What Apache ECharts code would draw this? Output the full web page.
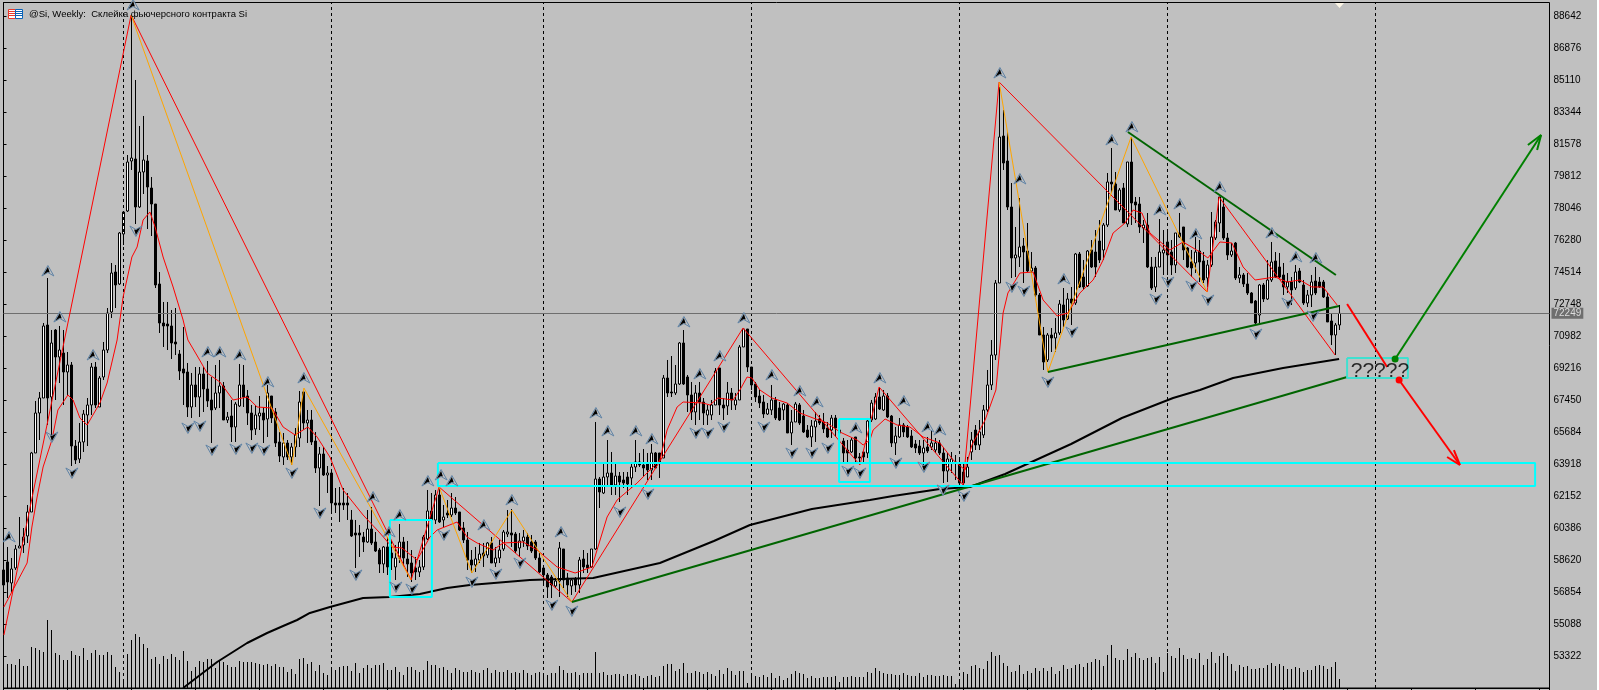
<!DOCTYPE html>
<html><head><meta charset="utf-8">
<script src="https://cdn.jsdelivr.net/npm/echarts@6/dist/echarts.min.js"></script>
<style>html,body{margin:0;padding:0;background:#C0C0C0;overflow:hidden}#c{width:1599px;height:690px}</style>
</head><body><div id="c"></div>
<script>
// Weekly candles, each row: open, close, low, high
const barsA=[[58084,57256,56538,58636],[58525,57421,56538,59354],[57366,58139,56870,58746],[58194,59243,58084,59464],[59298,59408,59298,61009],[59464,59905,59022,60402],[59960,61285,59574,61671],[61285,64541,61285,64600],[64541,66748,64541,67411],[66748,67576,65258,67908],
[67576,71550,67576,71716],[71605,67576,66086,74199],[67632,70612,65258,71329],[71329,69839,67466,71384],[69839,70225,68404,71550],[70060,69011,67190,71329],[69011,69398,67742,70115],[69398,64927,63823,69563],[64927,64155,63934,65258],[64210,65148,63989,66197],
[65148,66693,64596,66914],[66638,67190,64927,67576],[67190,69287,66638,69508],[69287,67190,67024,69563],[67080,68680,67080,68790],[68735,70225,68570,70667],[70225,72267,70060,72543],[72323,74475,71991,75027],[74530,73813,72543,74917],[73868,76683,73813,76738]];
const barsB=[[76628,77842,76020,77842],[77897,80601,77842,80987],[80656,80822,80160,88604],[80767,78118,77179,85127],[78118,80049,78062,82588],[80049,80712,78835,83140],[80656,79221,76903,80987],[79166,78283,76517,79773],[78283,73813,73647,78283],[73868,71716,71164,74530],
[71716,71550,70391,72875],[71660,71550,70225,72875],[71550,70612,69729,72433],[70667,70557,69949,72543],[70005,69066,68570,70225],[69177,68956,67190,71495],[69011,67080,66528,69508],[67080,68294,66473,68956],[68294,67632,67080,69287],[67632,68901,66528,69287],
[68901,68073,66804,69287],[68073,67411,67080,69618],[67466,66914,65093,68735],[67024,67853,66914,69398],[67853,68239,67024,69674],[68239,66362,66362,68460],[66362,66528,66197,66804],[66583,65976,65148,67466],[65976,67245,65148,67356],[67135,68294,67080,69453],
[68294,67632,67080,69398],[67687,66748,66086,68018],[66748,65810,65258,67190],[65866,66638,65534,67190],[66583,66748,65810,67687],[66748,66362,65093,67080],[66418,67853,65424,68294],[67687,66473,66197,67687],[66804,65093,64872,67024],[65148,64375,64044,65700],
[64320,65093,63879,65645],[65093,64320,64155,65258],[64320,64872,63879,65093],[64872,65534,64320,65921],[65369,67356,64872,67963],[67908,66197,65810,68018],[66197,66362,65093,66914],[66362,65148,64982,66914],[65203,63713,63437,65700],[63713,64486,61616,64872],
[64486,63327,63272,64872],[63327,63437,62333,63823]];
const barsC=[[63437,61781,61230,63603],[61781,61671,61230,62609],[61781,61671,60733,62664],[61781,61671,61395,62609],[61781,61671,60843,62333],[60843,59960,59905,61395],[60126,60015,58194,60843],[60126,60015,58801,60567],[59905,59629,59077,60181],[59629,60347,59574,61395],
[60347,59574,59464,61560],[59629,59132,59077,60181],[59187,58415,57918,59298],[58415,59354,57918,59408],[59354,58250,57808,59905],[59022,58746,58084,59740],[58250,58746,57532,59464],[58746,59629,58470,60622],[59629,58746,58250,59905],[58691,58415,57697,59684],
[58470,57918,57421,59187],[58194,57973,57532,58801],[57973,58250,57697,58636],[58250,59905,58084,60015],[59795,61340,59739,62499],[61340,60843,59739,62333],[60843,62222,60622,62499],[62222,60733,60678,62664],[60843,61009,60457,61671],[61230,61119,60953,61947],
[61119,61505,61009,62333],[61505,61230,61119,62112],[61285,60291,60236,61285],[60402,59739,59574,60733],[59739,58636,58084,60181],[58636,58360,57918,59187],[58360,58691,57973,59354],[58636,58967,58470,59574],[59022,58856,58250,59574],[58912,59574,58746,59629],
[59574,58470,58470,59905],[58470,58746,58250,59354],[58746,59187,58470,59739],[59243,60181,59132,60291],[60071,60181,59905,61395],[60126,60015,59354,61450],[60071,59132,59022,60181],[59298,59684,58801,60126],[59684,59905,59354,60291],[59905,59408,59187,60126],
[59629,59132,59022,60015],[59629,58746,58636,59739],[58746,57973,57918,59022]];
const barsD=[[58194,57808,57366,58250],[57808,57145,56538,57918],[57697,57256,56538,57808],[57201,57476,57090,57642],[57476,59298,56594,59629],[59243,57532,57090,59243],[57642,57256,56594,57918],[57201,57532,56704,57642],[57587,57256,56870,57697],[57256,58636,56815,58801],
[58691,58250,57918,59187],[58360,58194,57918,59022],[58250,59243,58194,59243],[59243,63106,59187,66252],[63106,62389,61505,63217],[62333,63217,62277,63989],[63217,63437,62664,65258],[63437,62775,62222,64596],[62775,63272,62222,63934],[63272,62940,61836,63492],
[63051,62885,62609,63492],[63217,62830,62222,63492],[63161,63768,62609,63989],[63768,64044,63492,65258],[64044,63879,63768,64541],[63879,63713,63217,64762],[63989,63603,63051,64541],[63603,64541,63051,65037],[64541,63713,63713,64596],[64541,63989,63161,64541],
[64265,68680,64265,68846],[68680,67853,67632,69674],[67908,67853,67632,69894],[67853,68349,67742,69398],[68349,70612,68294,70667],[70612,68349,68294,71329],[68735,67742,66804,68846],[67742,66804,66362,68460],[66804,67853,66086,68294],[67853,67356,66362,68460],
[67356,66748,66086,67576],[66638,66914,66086,67190],[66638,67190,66362,67466],[67190,69066,67190,69232],[69232,67190,66638,69232],[67190,67024,66362,67576],[67135,67853,66638,68460],[67853,67466,66914,68128],[67190,67466,66914,67853],[67466,70391,67466,70502],
[70391,71384,70391,71440],[71384,69287,69011,71384]];
const barsE=[[69287,68294,68018,69287],[68349,67632,67356,68460],[67687,67300,67024,68018],[67356,66693,66473,67742],[66693,66969,66638,67300],[66914,67466,66638,68294],[67466,66473,66362,67632],[67024,66362,66307,67356],[66914,67245,66362,67300],[67190,65645,65645,67300],
[65645,66252,64982,66914],[66252,67245,66252,67356],[67190,66197,66086,67300],[66583,65700,65645,66914],[65810,65424,65369,66086],[65424,66031,64872,66362],[65976,66307,65148,66804],[66418,66197,66086,66638],[66252,65866,65645,66748],[65921,65424,65369,66252],
[65810,66473,65369,66638],[66473,65921,65424,66638],[65810,65645,65424,65976],[65203,64541,63989,65369],[64706,64541,64044,65258],[64596,65258,64541,65369],[65424,64265,64044,65424],[64320,64265,63879,64541],[64596,64320,64044,64596],[64541,66307,64265,66473],
[66362,67300,66252,67466],[66418,67632,66362,67853],[67632,66969,66914,68128],[66914,67687,66859,68018],[67687,66528,66473,67853],[66583,65093,64872,66638],[65093,65479,64430,65976],[65424,66086,65369,66473],[66086,65700,65424,66197],[65976,65424,65369,66086],
[65479,64872,64817,65810],[65037,64817,64541,65258],[64927,64541,64430,65258],[64541,64817,63879,65258],[64872,64651,64541,65424],[64872,65093,64706,65810],[64706,65093,64541,65369],[65093,64541,64430,65258],[64541,63547,62885,64872],[63547,64210,62940,64541],
[63989,64210,63437,64596],[64044,63989,63051,64430]];
const barsF=[[63989,62885,62775,64155],[63492,62885,62664,63989],[63217,63768,63217,64320],[64596,65258,64155,65700],[65810,64982,64706,66086],[64982,65700,64706,66362],[65534,66914,65369,67190],[66914,68294,66804,69122],[68294,69949,68018,70777],[69949,73923,69674,74089],
[73923,81981,73923,84740],[82036,80546,80160,83471],[80656,78118,77952,82257],[78118,75303,74199,79442],[75303,75469,74254,77014],[75358,75910,74806,78614],[75965,75634,73923,76407],[75689,74585,74530,77234],[74585,74751,74475,75634],[74751,73261,73150,74862],
[73261,71053,71053,73371],[71053,69563,69122,71495],[69674,71053,69563,71164],[71053,70888,70115,71440],[70888,71164,70115,71991],[71164,72764,71053,72985],[72709,71881,71495,73647],[71936,73040,71881,73371],[73040,72820,71605,73702],[72820,75524,72709,75579],
[75524,73702,73647,75634],[74254,73702,73537,75193],[73758,75689,73702,75744],[75744,74806,74751,76296],[75634,74806,74254,76848],[76241,75193,75027,77400],[75744,77124,75193,77234],[77124,79497,77014,79994],[79497,79387,78890,81374],[79387,77952,77952,80049],
[77952,79056,77842,79166],[79166,77234,77234,79442],[77179,80601,77014,80601],[80601,78338,77124,81981],[78394,78228,77234,78670],[78283,77014,76683,78670],[76958,77124,76131,77400],[77124,74806,74751,77787],[74806,73647,73537,75358],[73702,74806,73426,75358],
[74806,75634,74806,77455],[75579,75744,74365,76848]];
const barsG=[[76186,75469,74365,76848],[75634,74917,74365,76296],[74917,76683,74475,76683],[76683,76462,76407,77787],[77014,75744,75193,77014],[75855,74806,74751,75910],[75082,74751,74254,75744],[75027,75634,74475,76462],[75689,75082,73979,76296],[75138,74089,73923,75634],
[74199,74917,73702,75193],[74917,76462,74806,77842],[76407,77290,76296,77400],[77234,78670,76738,78670],[78118,76407,76296,78670],[76407,75469,75193,76683],[75469,75689,75358,76131],[76131,74199,74089,76186],[74199,74365,73923,74806],[74365,73868,73702,74475],
[73868,73371,73261,74475],[73371,72820,72820,73426],[72930,71716,71605,72985],[72157,73813,71716,73868],[73813,73040,72875,73923],[73040,74089,72985,75193],[74089,75082,73979,76186],[75138,74254,74199,75634],[74806,74254,74199,75579],[74365,73702,73261,75027],
[73702,73979,73371,74475],[73979,73537,72709,74254],[73647,74530,73537,74917],[74585,73979,73923,74751],[73813,72820,72709,74089],[72820,73261,72598,73537],[73261,73979,72598,74365],[74034,73371,73261,74806],[73979,73702,73647,74254],[73979,73150,73095,74089],
[73150,71771,71771,73371],[71826,71053,70502,72267],[71053,71605,69949,71716],[71605,72249,71329,72709]];

const volumes=[20,24,24,23,29,22,22,41,40,38,36,68,58,35,33,28,28,37,33,32,40,28,35,38,33,33,36,33,21,16,9,34,48,54,51,44,40,29,31,24,32,29,34,31,28,37,27,17,21,27,26,29,29,20,27,26,23,21,21,27,26,26,26,25,24,23,24,22,24,21,21,16,19,14,29,30,24,26,17,23,15,13,18,18,21,22,22,17,25,15,
20,23,20,23,23,25,18,18,21,16,13,21,21,18,16,18,27,23,23,20,21,18,15,20,18,16,16,18,16,15,18,20,15,18,16,16,18,15,16,15,18,15,13,15,16,13,13,15,15,22,18,15,15,16,13,15,15,15,36,15,16,13,13,14,14,12,14,13,14,12,
10,12,13,11,12,22,24,24,17,19,25,15,15,17,16,14,16,14,12,18,14,20,17,13,17,17,5,13,12,11,13,11,15,10,12,8,10,14,17,15,14,10,12,10,10,11,11,11,12,6,11,11,12,11,11,11,16,15,20,17,15,14,14,13,13,15,13,12,12,15,11,13,13,12,12,13,12,12,4,9,16,14,22,23,20,19,27,36,32,33,
25,22,16,17,23,14,17,15,20,17,20,17,21,14,17,23,19,20,23,24,21,25,26,29,28,22,33,43,30,28,28,39,31,35,30,28,30,31,25,31,16,35,32,30,40,33,29,30,29,35,23,29,36,25,32,35,32,24,17,23,21,22,19,19,20,20,23,25,22,24,22,19,19,21,20,16,18,18,22,23,22,19,21,26,9];

const yearBars=[30,82,135,187,239,291,343];
const priceTicks=[88642,86876,85110,83344,81578,79812,78046,76280,74514,72748,70982,69216,67450,65684,63918,62152,60386,58620,56854,55088,53322];
const lastPrice=72249;
const chartTitle="@Si, Weekly:  Склейка фьючерсного контракта Si";
const noteText="?????";
const notePos=[344.1,69066];

const smoothMA=[[0.1,56042],[5.9,58470],[7.1,60457],[8.4,62112],[9.9,63768],[12.1,65258],[13.6,66914],[16.1,67742],[17.4,67466],[19.1,66473],[20.9,66086],[24.1,67300],[25.9,68404],[28.4,70777],[29.9,73150],[32.1,75358],[33.4,75910],[34.9,77400],[36.6,77842],[37.9,77014],[39.9,75358],[42.4,73702],[44.9,71881],[46.1,70777],[48.6,69839],[50.9,68956],[54.1,68460],[57.4,67466],[60.9,67632],[63.4,67080],[67.1,67024],[69.9,65976],[72.9,65534],[76.1,65976],[78.4,65424],[81.6,64320],[84.9,62499],[89.9,61119],[94.1,60126],[97.1,59354],[99.6,59298],[103.4,58636],[106.6,59905],[108.4,60291],[113.4,60733],[115.9,59905],[118.4,59574],[122.4,59187],[124.9,59574],[129.9,59629],[133.4,59187],[138.4,58250],[142.9,57918],[147.1,58250],[150.9,61009],[153.4,61947],[158.4,62885],[164.1,64155],[165.9,65810],[168.4,67080],[169.9,67356],[174.9,67300],[176.6,67190],[178.6,67576],[182.4,67466],[184.1,68018],[185.9,68735],[187.1,68680],[189.1,68018],[192.1,67576],[195.9,67300],[199.1,66748],[202.4,66473],[205.9,66197],[209.1,65700],[213.4,65258],[214.9,64982],[216.6,65258],[217.4,65810],[220.4,66418],[223.4,66086],[226.6,65976],[229.9,65424],[234.1,65093],[237.4,64155],[240.4,63603],[242.1,64982],[245.4,66362],[248.1,68018],[249.9,72267],[251.1,73371],[254.1,74475],[257.4,74530],[259.9,72985],[263.4,72102],[266.1,72267],[269.1,73371],[272.4,74089],[274.9,75193],[277.4,76683],[280.4,77234],[282.4,77952],[284.6,77787],[286.6,76683],[291.6,75744],[294.9,76186],[299.1,75634],[301.1,75303],[304.1,76186],[307.1,76131],[309.9,74806],[312.9,74089],[317.9,74254],[320.9,73979],[324.1,74089],[327.1,73702],[329.9,73702],[333.4,72709]];
const longMA=[[44.9,51571],[53.4,53006],[60.9,54054],[65.9,54606],[69.9,54992],[73.4,55324],[76.6,55711],[81.6,56042],[89.9,56538],[96.6,56594],[104.1,56760],[110.9,57090],[116.6,57256],[131.6,57532],[147.4,57642],[164.1,58470],[177.6,59684],[186.6,60567],[202.1,61450],[216.6,61947],[222.4,62167],[234.1,62554],[241.6,62664],[250.4,63382],[266.9,65037],[279.6,66473],[292.4,67576],[299.1,68018],[307.4,68680],[319.9,69232],[333.9,69729]];
const zigzagRed=[[0.1,54496],[31.9,88714],[101.9,57532],[108.9,62664],[142.1,56318],[184.9,71440],[214.1,63879],[218.9,68184],[239.9,62775],[248.9,85016],[300.9,73426],[303.9,78670],[332.9,69949]];
const zigzagOrange1=[[31.9,88714],[72.1,63879],[75.1,68128],[101.9,57532]];
const zigzagOrange2=[[108.9,62664],[117.1,57918],[127.1,61395],[142.1,56318]];
const zigzagOrange3=[[248.9,85016],[261.1,69011],[281.9,81981],[300.9,73426]];
const trendLong=[[142.1,56318],[335.9,68735]];
const trendLow=[[261.1,69011],[333.9,72654]];
const trendHigh=[[281.1,82257],[333.1,74365]];
const boxA=[[96.6,60843],[107.1,60843],[107.1,56594],[96.6,56594],[96.6,60843]];
const boxB=[[108.6,63989],[382.9,63989],[382.9,62720],[108.6,62720],[108.6,63989]];
const boxC=[[208.9,66418],[216.6,66418],[216.6,62940],[208.9,62940],[208.9,66418]];
const boxD=[[335.9,69784],[351.1,69784],[351.1,68680],[335.9,68680],[335.9,69784]];
const redStroke=[[335.9,72764],[345.9,69287]];
const redArrow=[[348.9,68570],[364.1,63879]];
const redBarb=[[360.9,64320],[364.1,63879],[362.6,64706]];
const greenArrow=[[347.9,69729],[384.4,82091]];
const greenBarb=[[381.1,81539],[384.4,82091],[383.4,81264]];
const fractalUp=[[32.4,89266],[11.1,74586],[14.1,72046],[1.4,59905],[22.4,69949],[51.1,70115],[54.1,70115],[59.1,69949],[66.1,68460],[75.1,68680],[92.4,62112],[96.4,60181],[99.1,61119],[106.1,62995],[109.4,63327],[112.1,62995],[120.1,60567],[127.1,61947],[139.4,60181],[148.1,66748],[151.1,65755],[158.1,65755],[162.1,65313],[170.1,71771],[174.1,68901],[179.1,69894],[185.1,71991],[192.1,68846],[199.1,67963],[203.4,67356],[213.1,65921],[219.1,68680],[225.1,67411],[231.1,65976],[234.1,65810],[249.1,85513],[254.1,79663],[265.1,74144],[277.1,81815],[282.1,82533],[289.1,77952],[294.1,78283],[298.1,76628],[304.1,79221],[317.1,76683],[323.1,75358],[328.1,75303]];
const fractalDown=[[33.1,76793],[12.1,65424],[17.1,63437],[46.1,65921],[49.1,66031],[52.1,64706],[58.1,64761],[62.1,64817],[65.1,64706],[72.1,63437],[79.1,61230],[88.1,57808],[98.1,57145],[102.1,57035],[110.1,60015],[117.1,57421],[123.1,57863],[129.1,58470],[137.1,56152],[142.1,55821],[154.1,61285],[161.1,62278],[173.1,65645],[176.1,65645],[180.1,65976],[190.1,65976],[197.1,64541],[202.1,64541],[206.1,64817],[211.1,63547],[214.1,63437],[223.1,63989],[230.1,63768],[234.9,62499],[240.1,62168],[252.1,73702],[255.1,73481],[261.1,68460],[267.1,71219],[288.1,73040],[291.1,73979],[297.1,73758],[301.1,72985],[313.1,71108],[321.1,72820],[327.4,72102]];

const candleRows=[...barsA,...barsB,...barsC,...barsD,...barsE,...barsF,...barsG].map((r,i)=>[i,...r]);
const volRows=volumes.map((v,i)=>[i,v]);

function pathSeries(data,color,width,extra){
  return Object.assign({type:'line',data,symbol:'none',silent:true,lineStyle:{color,width},itemStyle:{color},z:5,animation:false},extra||{});
}
function fractalSeries(data,dirUp){
  return {type:'custom',data,silent:true,z:7,clip:false,animation:false,encode:{x:0,y:1},
    renderItem(p,api){
      const c=api.coord([api.value(0),api.value(1)]);
      const x=c[0],y=c[1],s=dirUp?1:-1,m=dirUp?1:-1;
      const top=[x,y-5.5*s],l=[x-6*m,y+5*s],r=[x+6*m,y+5*s],n=[x,y+1.5*s];
      return {type:'group',children:[
        {type:'polygon',shape:{points:[top,l,n,r]},style:{fill:'#C0C0C0',stroke:'#5f83a6',lineWidth:1}},
        {type:'polygon',shape:{points:[[x,y-4*s],[x-4.5*m,y+3.8*s],[x-0.2*m,y+1*s],[x+1.8*m,y+1.6*s]]},style:{fill:'#000'}}
      ]};
    }};
}
function volumeSeries(data){
  return {type:'custom',data,silent:true,z:1,yAxisIndex:1,animation:false,encode:{x:0,y:1},
    renderItem(p,api){
      const t=api.coord([api.value(0),api.value(1)]),b=api.coord([api.value(0),0]);
      return {type:'rect',shape:{x:Math.floor(t[0]),y:Math.round(t[1]),width:1,height:Math.round(b[1])-Math.round(t[1])},style:{fill:'#000'}};
    }};
}

const chart=echarts.init(document.getElementById('c'),null,{renderer:'canvas',width:1599,height:690});
chart.setOption({
  animation:false,
  backgroundColor:'#C0C0C0',
  title:{text:chartTitle,left:29,top:9,padding:0,textStyle:{color:'#000',fontWeight:'normal',fontSize:9.5,fontFamily:'Liberation Sans'},z:20},
  grid:{left:3.5,top:2.5,width:1546,height:685.5,show:true,borderColor:'#000',borderWidth:1,backgroundColor:'#C0C0C0'},
  xAxis:{type:'value',min:0,max:386.5,interval:16,axisLine:{show:true,onZero:false,lineStyle:{color:'#000'}},axisTick:{show:true,length:2,lineStyle:{color:'#000'}},axisLabel:{show:false},splitLine:{show:false}},
  yAxis:[
    {type:'value',position:'right',min:51571,max:89404,scale:true,axisLine:{show:true,lineStyle:{color:'#000',width:1}},
     axisTick:{show:true,length:3,inside:false,customValues:priceTicks,lineStyle:{color:'#000'}},
     axisLabel:{show:true,customValues:priceTicks,margin:4,color:'#000',fontSize:10,fontFamily:'Liberation Sans',formatter:v=>String(v)},splitLine:{show:false}},
    {type:'value',min:0,max:685.5,show:false,splitLine:{show:false}}
  ],
  series:[
    volumeSeries(volRows),
    {type:'line',data:[],symbol:'none',silent:true,z:2,animation:false,
     markLine:{silent:true,symbol:'none',animation:false,label:{show:false},lineStyle:{color:'#000',type:[3,3],width:1},data:yearBars.map(b=>({xAxis:b}))}},
    {type:'candlestick',data:candleRows,encode:{x:0,y:[1,2,3,4]},barWidth:3,silent:true,z:3,animation:false,
     itemStyle:{color:'#FFFFFF',color0:'#000000',borderColor:'#000000',borderColor0:'#000000',borderWidth:1},
     markLine:{silent:true,symbol:'none',animation:false,lineStyle:{color:'#6e6e6e',type:'solid',width:1},
       label:{show:true,position:'end',distance:2,formatter:String(lastPrice),color:'#dcdcdc',backgroundColor:'#6e6e6e',padding:[1,2,0,2],fontSize:10,fontFamily:'Liberation Sans'},
       data:[{yAxis:lastPrice}]}},
    pathSeries(smoothMA,'#FF0000',1),
    pathSeries(longMA,'#000000',2,{z:4}),
    pathSeries(zigzagRed,'#FF0000',1),
    pathSeries(zigzagOrange1,'#FFA500',1),
    pathSeries(zigzagOrange2,'#FFA500',1),
    pathSeries(zigzagOrange3,'#FFA500',1),
    pathSeries(trendLong,'#006400',2),
    pathSeries(trendLow,'#006400',2),
    pathSeries(trendHigh,'#006400',2),
    pathSeries(boxA,'#00FFFF',2),
    pathSeries(boxB,'#00FFFF',2),
    pathSeries(boxC,'#00FFFF',2),
    pathSeries(boxD,'#40E0D0',2),
    pathSeries(redStroke,'#FF0000',2),
    pathSeries(redArrow,'#FF0000',2,{showSymbol:true,symbol:(v,p)=>p.dataIndex===0?'circle':'none',symbolSize:7}),
    pathSeries(redBarb,'#FF0000',2),
    pathSeries(greenArrow,'#008000',2,{showSymbol:true,symbol:(v,p)=>p.dataIndex===0?'circle':'none',symbolSize:7}),
    pathSeries(greenBarb,'#008000',2),
    fractalSeries(fractalUp,true),
    fractalSeries(fractalDown,false),
    {type:'scatter',data:[notePos],symbolSize:0,silent:true,z:9,animation:false,
     label:{show:true,position:'inside',formatter:noteText,color:'#000',fontSize:21,fontFamily:'Liberation Sans'}}
  ],
  graphic:[
    {type:'rect',shape:{x:1597,y:0,width:2,height:690},style:{fill:'#fff'},silent:true,z:30},
    {type:'polygon',shape:{points:[[1335,3],[1344,3],[1339.5,8]]},style:{fill:'#fdf6e6'},silent:true,z:30},
    {type:'rect',shape:{x:8.5,y:9.5,width:7,height:9},style:{fill:'#fff',stroke:'#e8392c',lineWidth:1},silent:true,z:30},
    {type:'rect',shape:{x:15.5,y:9.5,width:7,height:9},style:{fill:'#fff',stroke:'#0a63b8',lineWidth:1},silent:true,z:30},
    {type:'rect',shape:{x:9,y:11,width:6,height:1},style:{fill:'#e8392c'},silent:true,z:30},
    {type:'rect',shape:{x:9,y:13,width:6,height:1},style:{fill:'#e8392c'},silent:true,z:30},
    {type:'rect',shape:{x:9,y:15,width:6,height:1},style:{fill:'#e8392c'},silent:true,z:30},
    {type:'rect',shape:{x:16,y:11,width:6,height:1},style:{fill:'#0a63b8'},silent:true,z:30},
    {type:'rect',shape:{x:16,y:13,width:6,height:1},style:{fill:'#0a63b8'},silent:true,z:30},
    {type:'rect',shape:{x:16,y:15,width:6,height:1},style:{fill:'#0a63b8'},silent:true,z:30}
  ]
});
</script></body></html>
